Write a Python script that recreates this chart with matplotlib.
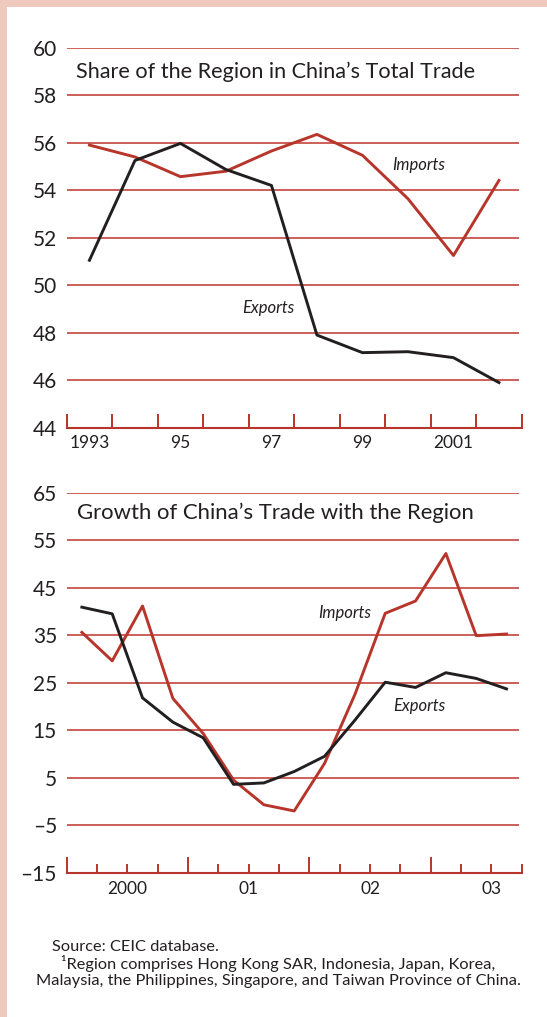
import matplotlib
matplotlib.use("Agg")
import matplotlib.pyplot as plt
from matplotlib.patches import Rectangle
import matplotlib.transforms as mtransforms

plt.rcParams['font.family'] = ['Lato', 'DejaVu Sans']

# ---------------- data ----------------
years = [1993, 1994, 1995, 1996, 1997, 1998, 1999, 2000, 2001, 2002]
share_exports = [51.05, 55.25, 55.97, 54.87, 54.2, 47.9, 47.16, 47.2, 46.95, 45.9]
share_imports = [55.9, 55.4, 54.57, 54.8, 55.65, 56.35, 55.47, 53.64, 51.25, 54.41]
top_yticks = [44, 46, 48, 50, 52, 54, 56, 58, 60]
top_xlabels = ["1993", "95", "97", "99", "2001"]
top_xlabel_years = [1993, 1995, 1997, 1999, 2001]

quarters = [2000.125 + 0.25 * i for i in range(15)]
growth_exports = [40.9, 39.5, 21.8, 16.7, 13.4, 3.6, 3.9, 6.3, 9.5, 17.1,
                  25.1, 24.0, 27.1, 25.9, 23.7]
growth_imports = [35.6, 29.6, 41.15, 21.7, 14.3, 4.5, -0.7, -2.0, 8.0, 22.5,
                  39.6, 42.2, 52.2, 34.9, 35.25]
bot_yticks = [-15, -5, 5, 15, 25, 35, 45, 55, 65]
bot_ytick_labels = ["\u201315", "\u20135", "5", "15", "25", "35", "45", "55", "65"]
bot_xlabels = ["2000", "01", "02", "03"]
bot_xlabel_pos = [2000.5, 2001.5, 2002.5, 2003.5]

# ---------------- style ----------------
W, H = 547, 1017
RED = "#b7352b"
GRID = "#c4443b"
BLACK = "#231f20"
PINK = "#efc9bd"
TXT = "#231f20"

fig = plt.figure(figsize=(W / 100, H / 100), dpi=100, facecolor="white")
fig.patches.append(Rectangle((0, 0), 7.3 / W, 1, transform=fig.transFigure,
                             facecolor=PINK, edgecolor="none", zorder=-10))
fig.patches.append(Rectangle((0, 1 - 7.3 / H), 1, 7.3 / H, transform=fig.transFigure,
                             facecolor=PINK, edgecolor="none", zorder=-10))

left = 66.7 / W
width = (521.7 - 66.7) / W
height = 380 / H
ax1 = fig.add_axes([left, 1 - 427.7 / H, width, height])
ax2 = fig.add_axes([left, 1 - 872.7 / H, width, height])


def style_axes(ax, ylim, yticks, ylabels):
    ax.set_facecolor("none")
    ax.set_ylim(*ylim)
    for s in ["top", "right", "left"]:
        ax.spines[s].set_visible(False)
    ax.spines["bottom"].set_color(RED)
    ax.spines["bottom"].set_linewidth(1.5)
    ax.set_yticks(yticks)
    ax.set_yticklabels(ylabels)
    ax.tick_params(axis="y", length=0, pad=7, labelsize=15, labelcolor=TXT)
    for v in yticks[1:]:
        ax.plot([0, 0.995], [v, v], transform=ax.get_yaxis_transform(),
                color=GRID, lw=1.2, zorder=1, solid_capstyle="butt")


# ---- top chart ----
style_axes(ax1, (44, 60), top_yticks, [str(v) for v in top_yticks])
ax1.set_xlim(1992.5, 2002.5)
ax1.set_xticks([1992.5 + k for k in range(11)])
ax1.set_xticklabels([])
ax1.tick_params(axis="x", direction="in", length=10, width=1.4, color=RED)
ax1.plot(years, share_imports, color=RED, lw=2.1, zorder=3)
ax1.plot(years, share_exports, color=BLACK, lw=2.1, zorder=4)
tb1 = mtransforms.blended_transform_factory(ax1.transData, ax1.transAxes)
for yr, lab in zip(top_xlabel_years, top_xlabels):
    ax1.text(yr, -0.041, lab, transform=tb1, ha="center", va="center",
             fontsize=12.5, color=TXT)
ax1.text(0.0204, 0.9368, "Share of the Region in China\u2019s Total Trade",
         transform=ax1.transAxes, ha="left", va="center", fontsize=15.6, color=TXT)
ax1.text(2000.23, 55.06, "Imports", ha="center", va="center", fontsize=12,
         style="italic", color=TXT)
ax1.text(1996.94, 49.03, "Exports", ha="center", va="center", fontsize=12,
         style="italic", color=TXT)

# ---- bottom chart ----
style_axes(ax2, (-15, 65), bot_yticks, bot_ytick_labels)
ax2.set_xlim(2000, 2003.75)
ax2.set_xticks([2000, 2001, 2002, 2003])
ax2.set_xticklabels([])
ax2.set_xticks([2000 + 0.25 * k for k in range(16) if k % 4 != 0], minor=True)
ax2.tick_params(axis="x", which="major", direction="in", length=11.7, width=1.4, color=RED)
ax2.tick_params(axis="x", which="minor", direction="in", length=6.7, width=1.4, color=RED)
ax2.plot(quarters, growth_imports, color=RED, lw=2.1, zorder=3)
ax2.plot(quarters, growth_exports, color=BLACK, lw=2.1, zorder=4)
tb2 = mtransforms.blended_transform_factory(ax2.transData, ax2.transAxes)
for xp, lab in zip(bot_xlabel_pos, bot_xlabels):
    ax2.text(xp, -0.0437, lab, transform=tb2, ha="center", va="center",
             fontsize=12.5, color=TXT)
ax2.text(0.022, 0.9458, "Growth of China\u2019s Trade with the Region",
         transform=ax2.transAxes, ha="left", va="center", fontsize=15.9, color=TXT)
ax2.text(2002.29, 39.74, "Imports", ha="center", va="center", fontsize=12,
         style="italic", color=TXT)
ax2.text(2002.91, 20.16, "Exports", ha="center", va="center", fontsize=12,
         style="italic", color=TXT)

# ---- footnotes ----
fig.text(51.7 / W, 1 - 946.7 / H, "Source: CEIC database.", ha="left", va="center",
         fontsize=11.8, color=TXT)
fig.text(278 / W, 1 - 963.5 / H,
         "\u00b9Region comprises Hong Kong SAR, Indonesia, Japan, Korea,",
         ha="center", va="center", fontsize=11.8, color=TXT)
fig.text(278.7 / W, 1 - 980.5 / H,
         "Malaysia, the Philippines, Singapore, and Taiwan Province of China.",
         ha="center", va="center", fontsize=11.8, color=TXT)

fig.savefig("out.png", dpi=100, facecolor="white")
